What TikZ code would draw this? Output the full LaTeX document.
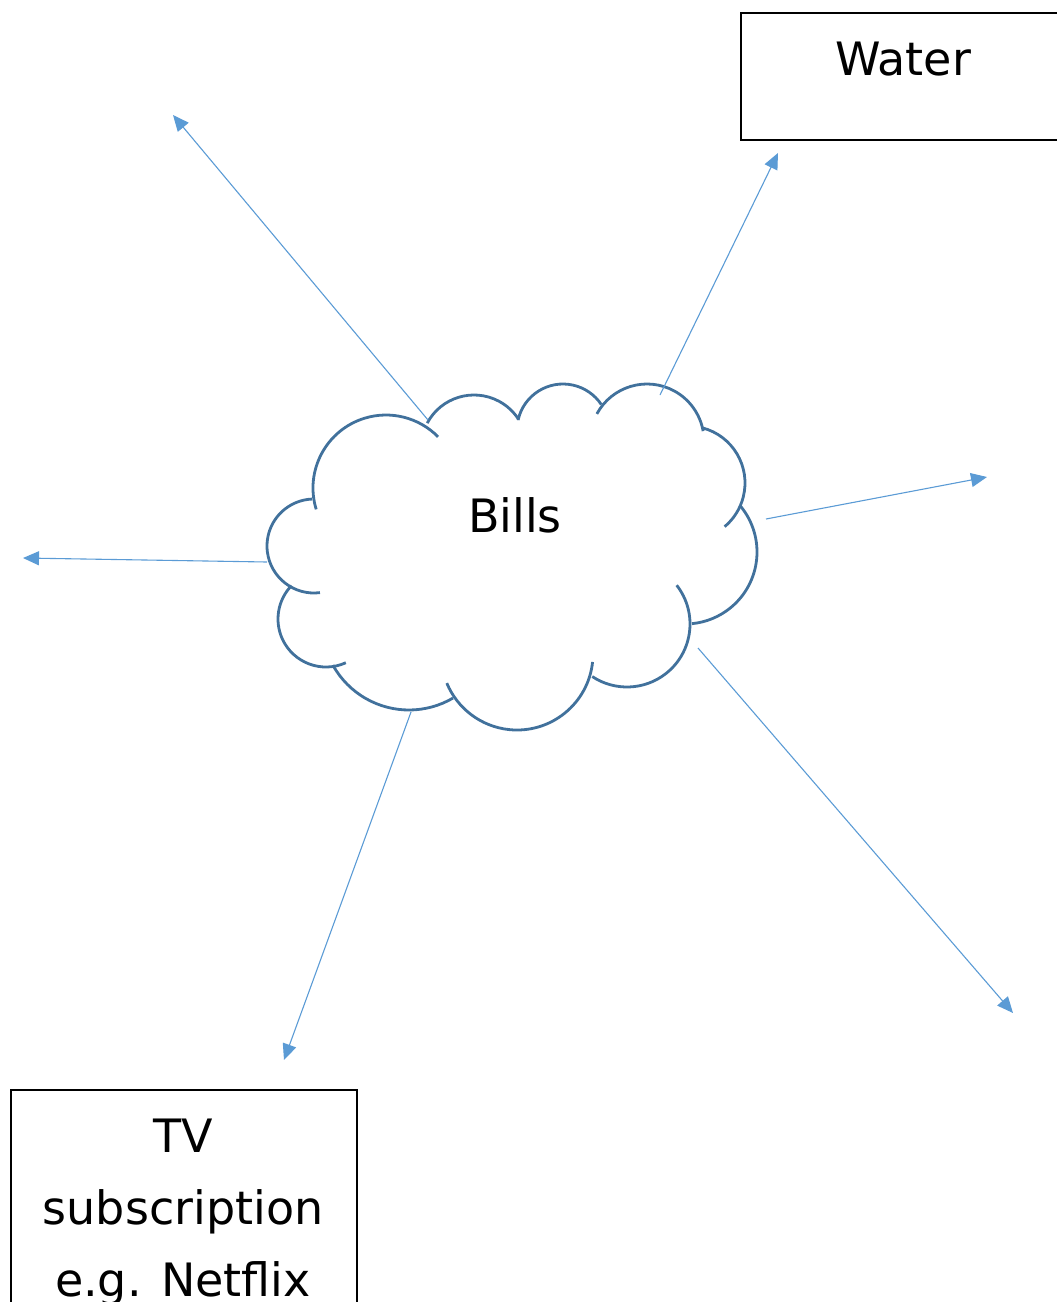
\documentclass[tikz,border=0pt]{standalone}
\usepackage{fontspec}
\setmainfont{DejaVu Sans}
\usetikzlibrary{arrows.meta}
\definecolor{cloudblue}{HTML}{41719C}
\definecolor{arrowblue}{HTML}{5B9BD5}
\newcommand{\cloudlobe}[5]{\draw[cloudline] (#1,-#2) ++(#4:#3) arc[start angle=#4,end angle=#5,radius=#3];}
\begin{document}
\begin{tikzpicture}[x=1pt,y=1pt,
  cloudline/.style={draw=cloudblue,line width=2.8pt},
  conn/.style={draw=arrowblue,line width=1.1pt,-{Triangle[length=16pt,width=14pt]}},
  boxstyle/.style={draw=black,line width=2.2pt,rectangle,inner sep=0pt},
  lbl/.style={font=\fontsize{46}{72}\selectfont,inner sep=0pt}]
\useasboundingbox (0,0) rectangle (1057,-1302);
\clip (0,0) rectangle (1057,-1302);
% boxes
\node[boxstyle,minimum width=324pt,minimum height=127pt,anchor=north west] (waterbox) at (740,-12) {};
\node[boxstyle,minimum width=346pt,minimum height=250pt,anchor=north west] (tvbox) at (10,-1089) {};
\node[lbl,anchor=base] (water) at (903,-75) {Water};
\node[lbl,align=center,anchor=north] (tv) at (183,-1119) {TV\\subscription\\e.g. Netflix};
% cloud
\cloudlobe{386}{488}{73}{197}{44.5}
\cloudlobe{474}{448}{53}{152}{32.5}
\cloudlobe{563}{430}{46}{167.5}{33.7}
\cloudlobe{647}{441}{57}{151.6}{10}
\cloudlobe{688}{483}{57}{75.7}{-50}
\cloudlobe{685}{552}{72}{39.3}{-84.5}
\cloudlobe{627}{624}{63}{38}{-123.5}
\cloudlobe{517}{654}{76}{-6}{-157.5}
\cloudlobe{409}{623}{87}{-59.6}{-151}
\cloudlobe{326}{619}{48}{-65.6}{-224}
\cloudlobe{314}{546}{47}{-82.7}{-267.6}
\node[lbl,anchor=base] (bills) at (515,-532) {Bills};
% connector end points
\coordinate (s1) at (428,-420); \coordinate (e1) at (173,-115);
\coordinate (s2) at (660,-395); \coordinate (e2) at (778,-153);
\coordinate (s3) at (766,-519); \coordinate (e3) at (987,-477);
\coordinate (s4) at (267,-562); \coordinate (e4) at (23,-558);
\coordinate (s5) at (411,-712); \coordinate (e5) at (284,-1060);
\coordinate (s6) at (698,-648); \coordinate (e6) at (1013,-1013);
\draw[conn] (s1) -- (e1);
\draw[conn] (s2) -- (e2);
\draw[conn] (s3) -- (e3);
\draw[conn] (s4) -- (e4);
\draw[conn] (s5) -- (e5);
\draw[conn] (s6) -- (e6);
\end{tikzpicture}
\end{document}
